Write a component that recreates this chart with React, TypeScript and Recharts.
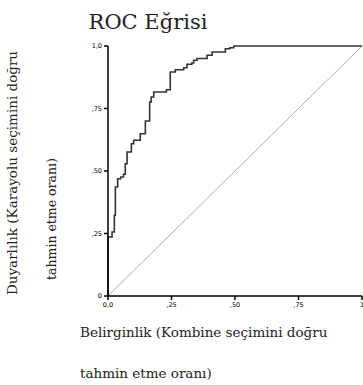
import React from 'react';
import { LineChart, Line, XAxis, YAxis } from 'recharts';

// ROC curve corners (1 - specificity, sensitivity)
const fpr = [
  0, 0, 0.016, 0.016, 0.025, 0.025, 0.029, 0.029, 0.038, 0.038, 0.05, 0.05, 0.061, 0.061,
  0.068, 0.068, 0.075, 0.075, 0.092, 0.092, 0.101, 0.101, 0.127, 0.127, 0.147, 0.147,
  0.164, 0.164, 0.17, 0.17, 0.18, 0.18, 0.23, 0.23, 0.245, 0.245, 0.265, 0.265, 0.298,
  0.298, 0.311, 0.311, 0.33, 0.33, 0.337, 0.337, 0.35, 0.35, 0.39, 0.39, 0.41, 0.41,
  0.462, 0.462, 0.48, 0.48, 0.495, 0.495, 1,
];
const tpr = [
  0, 0.236, 0.236, 0.256, 0.256, 0.323, 0.323, 0.436, 0.436, 0.469, 0.469, 0.476, 0.476,
  0.487, 0.487, 0.529, 0.529, 0.576, 0.576, 0.609, 0.609, 0.623, 0.623, 0.649, 0.649, 0.7,
  0.7, 0.776, 0.776, 0.796, 0.796, 0.816, 0.816, 0.825, 0.825, 0.896, 0.896, 0.905, 0.905,
  0.913, 0.913, 0.927, 0.927, 0.932, 0.932, 0.943, 0.943, 0.95, 0.95, 0.963, 0.963, 0.976,
  0.976, 0.989, 0.989, 0.993, 0.993, 1, 1,
];
const refLine = [0, 1];

const tickValues = [0, 0.25, 0.5, 0.75, 1];
const xTickLabels = ['0,0', ',25', ',50', ',75', '1'];
const yTickLabels = ['0', ',25', ',50', ',75', '1,0'];

const rocData = fpr.map((x, i) => ({ fpr: x, tpr: tpr[i] }));
const diagData = refLine.map((v) => ({ fpr: v, tpr: v }));

const serif = { fontFamily: "'DejaVu Serif', serif" };

const App = () => {
  return (
    <div style={{ position: 'absolute', left: 0, top: 0, width: 363, height: 385, background: '#fff' }}>
      <LineChart
        width={363}
        height={385}
        margin={{ top: 46, right: 1, bottom: 59, left: 78 }}
      >
        <XAxis
          type="number"
          dataKey="fpr"
          domain={[0, 1]}
          ticks={tickValues}
          tickFormatter={(v: number) => xTickLabels[tickValues.indexOf(v)]}
          height={30}
          stroke="#000"
          strokeWidth={1.5}
          tickSize={4}
          tick={{ fontSize: 6.5, fill: '#000', fontFamily: 'DejaVu Sans' }}
          interval={0}
          allowDuplicatedCategory={false}
        />
        <YAxis
          type="number"
          dataKey="tpr"
          domain={[0, 1]}
          ticks={tickValues}
          tickFormatter={(v: number) => yTickLabels[tickValues.indexOf(v)]}
          width={30}
          stroke="#000"
          strokeWidth={1.5}
          tickSize={4}
          tick={{ fontSize: 6.5, fill: '#000', fontFamily: 'DejaVu Sans' }}
          interval={0}
        />
        <Line
          data={diagData}
          dataKey="tpr"
          type="linear"
          stroke="#9a9a9a"
          strokeWidth={0.8}
          dot={false}
          isAnimationActive={false}
        />
        <Line
          data={rocData}
          dataKey="tpr"
          type="linear"
          stroke="#333"
          strokeWidth={1.6}
          dot={false}
          isAnimationActive={false}
        />
      </LineChart>
      <svg
        width={363}
        height={385}
        style={{ position: 'absolute', left: 0, top: 0, pointerEvents: 'none' }}
      >
        <text x={148} y={29} textAnchor="middle" style={{ ...serif, fontSize: 21 }} fill="#222">
          ROC Eğrisi
        </text>
        <text
          transform="translate(17,173) rotate(-90)"
          textAnchor="middle"
          style={{ ...serif, fontSize: 13.5 }}
          fill="#222"
        >
          Duyarlılık (Karayolu seçimini doğru
        </text>
        <text
          transform="translate(56,280) rotate(-90)"
          textAnchor="start"
          style={{ ...serif, fontSize: 12.5 }}
          fill="#222"
        >
          tahmin etme oranı)
        </text>
        <text x={80} y={337} style={{ ...serif, fontSize: 13.5 }} fill="#222">
          Belirginlik (Kombine seçimini doğru
        </text>
        <text x={80} y={378} style={{ ...serif, fontSize: 13.5 }} fill="#222">
          tahmin etme oranı)
        </text>
      </svg>
    </div>
  );
};

export default App;
